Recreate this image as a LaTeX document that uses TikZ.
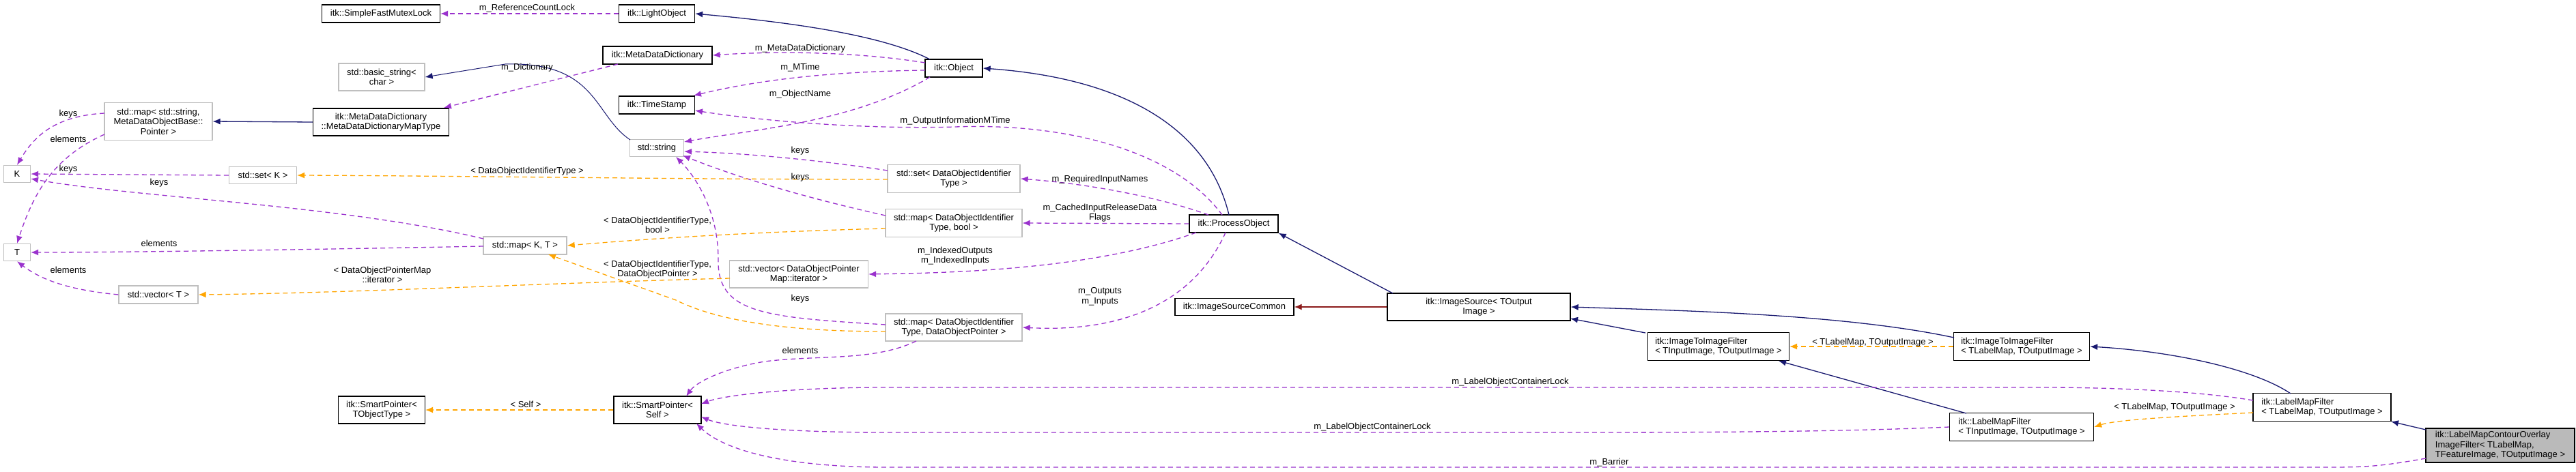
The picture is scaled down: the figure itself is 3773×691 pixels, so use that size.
\documentclass[tikz,border=0pt]{standalone}
\usepackage{fontspec}
\setmainfont{Liberation Sans}
\usepackage{xcolor}
\usepackage{tikz}
\usetikzlibrary{arrows.meta, positioning}
\definecolor{navy}{HTML}{191970}
\definecolor{orchid}{HTML}{9A32CD}
\definecolor{amber}{HTML}{FFA500}
\definecolor{brick}{HTML}{8B1A1A}
\tikzstyle{inh} = [navy, line width=1.3pt, -{Latex[length=11pt,width=9pt]}]
\tikzstyle{mem} = [orchid, line width=1.3pt, dashed, dash pattern=on 7pt off 5pt, -{Latex[length=11pt,width=9pt]}]
\tikzstyle{tpl} = [amber, line width=1.3pt, dashed, dash pattern=on 7pt off 5pt, -{Latex[length=11pt,width=9pt]}]

\begin{document}
\begin{tikzpicture}[x=1pt, y=-1pt, font=\fontsize{13}{14.5}\selectfont,
            cls/.style={rectangle, draw=black, line width=1.3pt, fill=white, inner sep=0pt, align=center},
            ext/.style={rectangle, draw=black!25, line width=1.3pt, fill=white, inner sep=0pt, align=center},
            lbl/.style={inner sep=0pt, align=center}]
            \useasboundingbox (0,0) rectangle (3773,691);

            % classes
            \node[cls, minimum width=173pt, minimum height=26pt] (mutex) at (558,20) {itk::SimpleFastMutexLock};
            \node[cls, minimum width=111pt, minimum height=26pt] (light) at (962,20) {itk::LightObject};
            \node[ext, minimum width=126pt, minimum height=40pt] (basicstr) at (559,113) {std::basic\_string<\\char >};
            \node[cls, minimum width=160pt, minimum height=26pt] (mdd) at (963,81) {itk::MetaDataDictionary};
            \node[ext, minimum width=158pt, minimum height=55pt] (mapstr) at (232,178) {std::map< std::string,\\MetaDataObjectBase::\\Pointer >};
            \node[cls, minimum width=199pt, minimum height=40pt] (mddmap) at (558,179) {itk::MetaDataDictionary\\::MetaDataDictionaryMapType};
            \node[cls, minimum width=111pt, minimum height=26pt] (stamp) at (962,154) {itk::TimeStamp};
            \node[ext, minimum width=79pt, minimum height=25pt] (stdstr) at (962,217) {std::string};
            \node[ext, minimum width=39pt, minimum height=25pt] (K) at (25,255) {K};
            \node[ext, minimum width=99pt, minimum height=25pt] (setK) at (385,257) {std::set< K >};
            \node[ext, minimum width=39pt, minimum height=25pt] (T) at (25,370) {T};
            \node[ext, minimum width=122pt, minimum height=26pt] (mapKT) at (769,360) {std::map< K, T >};
            \node[ext, minimum width=116pt, minimum height=26pt] (vecT) at (232,432) {std::vector< T >};
            \node[cls, minimum width=127pt, minimum height=40pt] (spobj) at (559,601) {itk::SmartPointer<\\TObjectType >};
            \node[cls, minimum width=128pt, minimum height=40pt] (spself) at (963,601) {itk::SmartPointer<\\Self >};
            \node[cls, minimum width=84pt, minimum height=26pt] (object) at (1397,100) {itk::Object};
            \node[ext, minimum width=194pt, minimum height=41pt] (setid) at (1397,262) {std::set< DataObjectIdentifier\\Type >};
            \node[ext, minimum width=200pt, minimum height=41pt] (mapbool) at (1397,327) {std::map< DataObjectIdentifier\\Type, bool >};
            \node[cls, minimum width=130pt, minimum height=26pt] (procobj) at (1807,328) {itk::ProcessObject};
            \node[ext, minimum width=203pt, minimum height=40pt] (vecit) at (1170,402) {std::vector< DataObjectPointer\\Map::iterator >};
            \node[ext, minimum width=200pt, minimum height=40pt] (mapdop) at (1397,480) {std::map< DataObjectIdentifier\\Type, DataObjectPointer >};
            \node[cls, minimum width=174pt, minimum height=25pt] (isc) at (1808,450) {itk::ImageSourceCommon};
            \node[cls, minimum width=268pt, minimum height=40pt] (imgsrc) at (2166,450) {itk::ImageSource< TOutput\\Image >};
            \node[cls, minimum width=207pt, minimum height=41pt, align=left] (itiin) at (2517,508) {itk::ImageToImageFilter\\< TInputImage, TOutputImage >};
            \node[cls, minimum width=199pt, minimum height=41pt, align=left] (itilbl) at (2961,508) {itk::ImageToImageFilter\\< TLabelMap, TOutputImage >};
            \node[cls, minimum width=211pt, minimum height=41pt, align=left] (lmfin) at (2961,626) {itk::LabelMapFilter\\< TInputImage, TOutputImage >};
            \node[cls, minimum width=202pt, minimum height=41pt, align=left] (lmflbl) at (3401,597) {itk::LabelMapFilter\\< TLabelMap, TOutputImage >};
            \node[cls, fill=black!27, minimum width=218pt, minimum height=50pt, align=left] (contour) at (3662,653) {itk::LabelMapContourOverlay\\ImageFilter< TLabelMap,\\ TFeatureImage, TOutputImage >};

            % inheritance
            \draw[inh] (1362,87) .. controls (1290,50) and (1150,32) .. (light.east);
            \draw[inh] (1800,315) .. controls (1770,190) and (1650,115) .. (object.east);
            \draw[inh] (2040,430) -- (procobj.south east);
            \draw[inh] (2410,488) -- (2300,467);
            \draw[inh] (2862,495) .. controls (2700,460) and (2450,455) .. (imgsrc.east);
            \draw[inh] (2880,606) -- (2605,529);
            \draw[inh] (3355,577) .. controls (3300,540) and (3180,515) .. (itilbl.east);
            \draw[inh] (3553,630) -- (3502,618);
            \draw[inh] (mddmap.west) -- (mapstr.east);
            \draw[navy, line width=1pt, -{Latex[length=11pt,width=9pt]}] (923,205) .. controls (870,170) and (875,90) .. (740,94) -- (basicstr.east);
            \draw[brick, line width=1.3pt, -{Latex[length=11pt,width=9pt]}] (imgsrc.west) -- (isc.east);

            % members
            \draw[mem] (light.west) -- (mutex.east);
            \draw[mem] (905,94) -- (650,158);
            \draw[mem] (1355,92) .. controls (1250,75) and (1130,75) .. (mdd.east);
            \draw[mem] (1355,103) .. controls (1200,105) and (1100,120) .. (1016,140);
            \draw[mem] (1362,113) .. controls (1250,180) and (1100,190) .. (1002,208);
            \draw[mem] (1790,315) .. controls (1720,220) and (1560,180) .. (1399,186) .. controls (1250,190) and (1100,175) .. (1018,162);
            \draw[mem] (1300,250) .. controls (1200,235) and (1100,225) .. (1002,222);
            \draw[mem] (1297,316) .. controls (1180,290) and (1080,260) .. (1000,228);
            \draw[mem] (1770,315) .. controls (1700,290) and (1600,270) .. (setid.east);
            \draw[mem] (procobj.west) -- (mapbool.east);
            \draw[mem] (1752,341) .. controls (1600,395) and (1400,400) .. (vecit.east);
            \draw[mem] (1795,341) .. controls (1750,440) and (1650,488) .. (mapdop.east);
            \draw[mem] (1297,476) .. controls (1120,465) and (1050,460) .. (1052,380) .. controls (1052,300) and (1010,250) .. (990,230);
            \draw[mem] (1342,500) .. controls (1280,530) and (1200,520) .. (1120,530) .. controls (1060,540) and (1020,560) .. (1005,581);
            \draw[mem] (153,166) .. controls (80,170) and (50,200) .. (K.north);
            \draw[mem] (153,197) .. controls (80,230) and (50,280) .. (T.north);
            \draw[mem] (setK.west) -- (K.east);
            \draw[mem] (708,350) .. controls (500,300) and (200,290) .. (45,262);
            \draw[mem] (708,361) .. controls (500,365) and (200,370) .. (T.east);
            \draw[mem] (vecT.west) .. controls (100,425) and (60,410) .. (T.south);
            \draw[mem] (3300,587) .. controls (3200,570) and (3050,568) .. (2998,568) -- (1300,568) .. controls (1150,568) and (1060,580) .. (1027,592);
            \draw[mem] (lmfin.west) .. controls (2700,633) and (2500,634) .. (2300,634) -- (1300,634) .. controls (1150,634) and (1060,625) .. (1027,611);
            \draw[mem] (3553,672) .. controls (3480,685) and (3460,685) .. (3400,685) -- (1300,685) .. controls (1150,685) and (1060,660) .. (1020,621);

            % template arguments
            \draw[tpl] (1300,263) .. controls (1000,263) and (700,258) .. (setK.east);
            \draw[tpl] (1297,335) .. controls (1100,340) and (950,350) .. (mapKT.east);
            \draw[tpl] (1297,486) .. controls (1150,486) and (1050,470) .. (990,440) -- (803,373);
            \draw[tpl] (1069,408) .. controls (800,415) and (500,430) .. (vecT.east);
            \draw[tpl] (spself.west) -- (spobj.east);
            \draw[tpl] (itilbl.west) -- (itiin.east);
            \draw[tpl] (3300,605) .. controls (3200,610) and (3100,615) .. (lmfin.east);

            % labels
            \node[lbl] (lrefcnt) at (772,12) {m\_ReferenceCountLock};
            \node[lbl] (ldict) at (772,99) {m\_Dictionary};
            \node[lbl] (lmdd) at (1172,71) {m\_MetaDataDictionary};
            \node[lbl] (lmtime) at (1172,99) {m\_MTime};
            \node[lbl] (lname) at (1172,138) {m\_ObjectName};
            \node[lbl] (loutmt) at (1399,177) {m\_OutputInformationMTime};
            \node[lbl] (lkeys1) at (1172,221) {keys};
            \node[lbl] (lkeys2) at (1172,260) {keys};
            \node[lbl] (lreq) at (1611,263) {m\_RequiredInputNames};
            \node[lbl] (lcache) at (1611,312) {m\_CachedInputReleaseData\\Flags};
            \node[lbl] (lidx) at (1399,375) {m\_IndexedOutputs\\m\_IndexedInputs};
            \node[lbl] (lkeys3) at (1172,438) {keys};
            \node[lbl] (lio) at (1611,435) {m\_Outputs\\m\_Inputs};
            \node[lbl] (lelem1) at (1172,514) {elements};
            \node[lbl] (lkeys4) at (100,167) {keys};
            \node[lbl] (lelem2) at (100,204) {elements};
            \node[lbl] (lkeys5) at (100,248) {keys};
            \node[lbl] (lkeys6) at (233,268) {keys};
            \node[lbl] (lelem3) at (233,357) {elements};
            \node[lbl] (lelem4) at (100,396) {elements};
            \node[lbl] (ltid) at (772,251) {< DataObjectIdentifierType >};
            \node[lbl] (ltbool) at (963,330) {< DataObjectIdentifierType,\\bool >};
            \node[lbl] (ltdop) at (963,395) {< DataObjectIdentifierType,\\DataObjectPointer >};
            \node[lbl] (ltit) at (560,403) {< DataObjectPointerMap\\::iterator >};
            \node[lbl] (ltself) at (770,593) {< Self >};
            \node[lbl] (llock1) at (2212,560) {m\_LabelObjectContainerLock};
            \node[lbl] (llock2) at (2010,626) {m\_LabelObjectContainerLock};
            \node[lbl] (lbarrier) at (2357,678) {m\_Barrier};
            \node[lbl] (ltlm1) at (2743,502) {< TLabelMap, TOutputImage >};
            \node[lbl] (ltlm2) at (3185,597) {< TLabelMap, TOutputImage >};
        \end{tikzpicture}
\end{document}
